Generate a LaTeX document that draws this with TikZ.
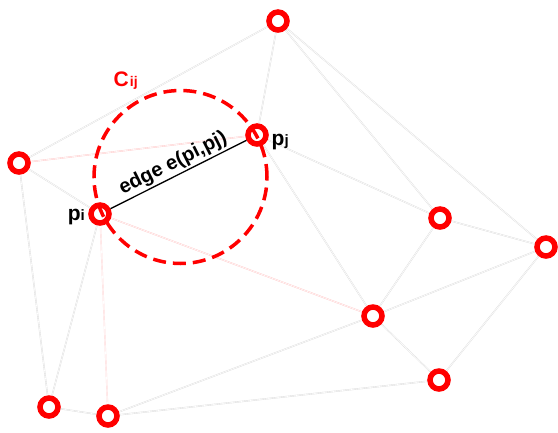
\documentclass[tikz,border=0pt]{standalone}
\usepackage{fontspec}
\setmainfont{Liberation Sans}
\usetikzlibrary{calc}
\pgfdeclarelayer{background}
\pgfsetlayers{background,main}
\newcommand\subtxt[2]{{\fontsize{#1}{#1}\selectfont #2}}
\tikzset{
  vert/.style={circle, draw=red, fill=white, line width=5.5pt, minimum size=18pt, inner sep=0pt},
  link/.style={draw=gray!28, double=white, double distance=0.6pt, line width=0.4pt},
  pinklink/.style={draw=red!22, double=white, double distance=0.6pt, line width=0.4pt},
  lbl/.style={font=\fontsize{21}{21}\selectfont\bfseries, inner sep=0pt},
  gabriel/.style={draw=red, line width=3.5pt, dash pattern=on 13pt off 7pt},
}
\begin{document}
\begin{tikzpicture}[x=1pt,y=-1pt]
\useasboundingbox (0,0) rectangle (558,432);
\node[vert] (A) at (278,21) {};
\node[vert] (B) at (19,163) {};
\node[vert] (pi) at (100,214) {};
\node[vert] (pj) at (257,135) {};
\node[vert] (C) at (440,218) {};
\node[vert] (D) at (546,247) {};
\node[vert] (E) at (373,316) {};
\node[vert] (F) at (439,380) {};
\node[vert] (G) at (49,407) {};
\node[vert] (H) at (108,416) {};
\begin{pgfonlayer}{background}
\draw[link] (A) -- (B);
\draw[link] (A) -- (pj);
\draw[link] (A) -- (C);
\draw[link] (A) -- (D);
\draw[pinklink] (B) -- (pj);
\draw[link] (B) -- (pi);
\draw[link] (B) -- (G);
\draw[link] (pi) -- (G);
\draw[pinklink, draw=red!15] (pi) -- (H);
\draw[pinklink] (pi) -- (E);
\draw[link] (pj) -- (C);
\draw[link] (pj) -- (E);
\draw[link] (C) -- (E);
\draw[link] (C) -- (D);
\draw[link] (D) -- (E);
\draw[link] (D) -- (F);
\draw[link] (E) -- (F);
\draw[link] (E) -- (H);
\draw[link] (H) -- (F);
\draw[link] (G) -- (H);
\end{pgfonlayer}
\draw[black, line width=1.3pt] (pi) -- (pj) node[midway, sloped, above=2pt, lbl, font=\fontsize{20}{20}\selectfont\bfseries] (el) {edge e(pi,pj)};
\coordinate (cc) at (180.5,177);
\draw[gabriel] (cc) circle[radius=86.5pt];
\node[lbl, anchor=base east] (lpi) at (85,220.5) {p\subtxt{15}{i}};
\node[lbl, anchor=base west] (lpj) at (271.5,145) {p\subtxt{15}{j}};
\node[lbl, text=red, anchor=base west] (lc) at (113.5,86.5) {C\kern1pt\subtxt{14}{ij}};
\end{tikzpicture}
\end{document}
